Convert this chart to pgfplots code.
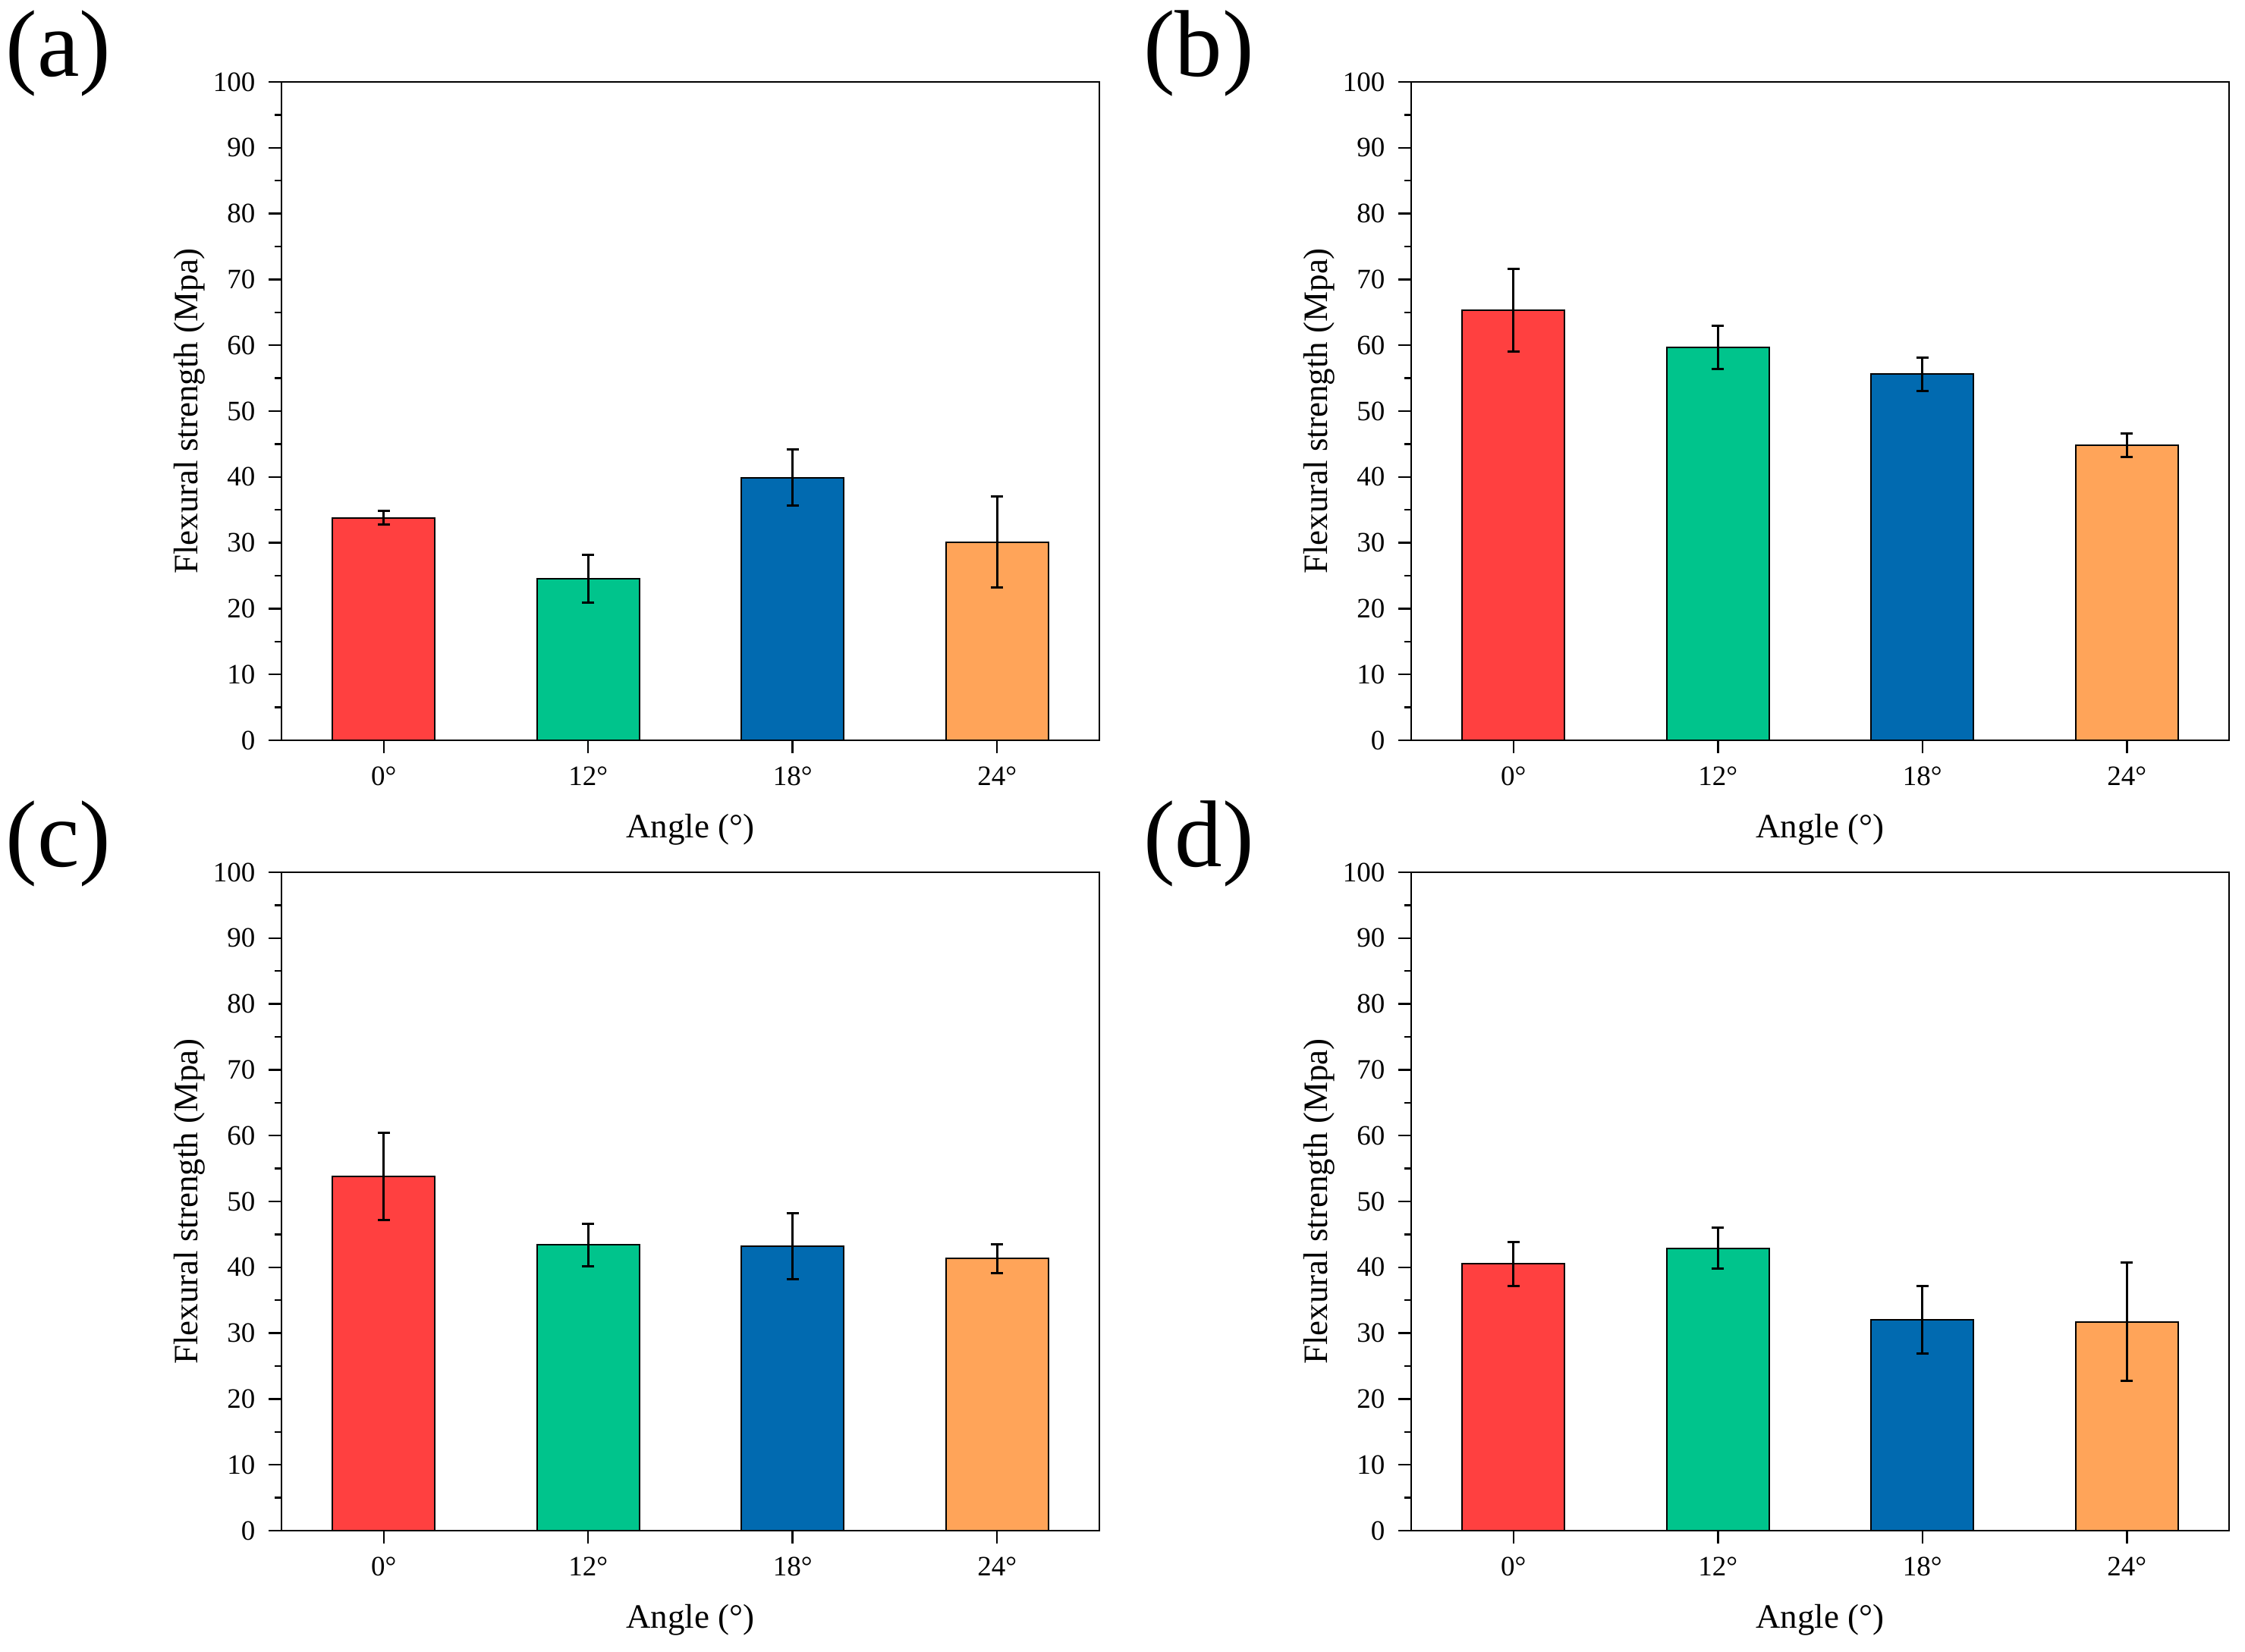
\documentclass[border=0pt]{standalone}
\usepackage{pgfplots}
\pgfplotsset{compat=1.18}
\usepackage{fontspec}
\setmainfont{Liberation Serif}
\definecolor{cR}{RGB}{255,64,64}
\definecolor{cG}{RGB}{0,196,140}
\definecolor{cB}{RGB}{1,106,176}
\definecolor{cO}{RGB}{255,164,89}
\pgfplotsset{
  panel/.style={
    scale only axis, width=215.6pt, height=173.6pt,
    anchor=south west,
    xmin=-0.5, xmax=3.5, ymin=0, ymax=100,
    xtick={0,1,2,3}, xticklabels={0°,12°,18°,24°},
    ytick={0,10,...,100}, minor y tick num=1,
    tick align=outside, xtick pos=bottom, ytick pos=left,
    major tick length=3.4pt, minor tick length=1.8pt,
    axis line style={line width=0.5pt},
    every tick/.style={line width=0.5pt, black},
    ticklabel style={font=\fontsize{7.4}{8}\selectfont},
    /pgf/number format/assume math mode=true,
    xlabel={Angle (°)}, ylabel={Flexural strength (Mpa)},
    label style={font=\fontsize{9}{10}\selectfont},
    xlabel style={at={(axis description cs:0.5,-0.136)}, anchor=center},
    ylabel style={at={(axis description cs:-0.1127,0.5)}, anchor=center},
    ybar, bar width=0.5, bar shift=0pt,
  },
  eb/.style={draw=black, line width=0.4pt,
    error bars/.cd, y dir=both, y explicit,
    error bar style={line width=0.6pt, black},
    error mark options={rotate=90, mark size=1.6pt, line width=0.6pt, black}},
}
\begin{document}
\begin{tikzpicture}
\path[use as bounding box] (0,0) rectangle (591.8pt,435.6pt);
% (a)
\begin{axis}[panel, at={(74.2pt,240.4pt)}]
\addplot[fill=cR, eb] coordinates {(0,33.8) +- (0,1.0)};
\addplot[fill=cG, eb] coordinates {(1,24.5) +- (0,3.65)};
\addplot[fill=cB, eb] coordinates {(2,39.9) +- (0,4.25)};
\addplot[fill=cO, eb] coordinates {(3,30.1) +- (0,6.9)};
\end{axis}
% (b)
\begin{axis}[panel, at={(372.0pt,240.4pt)}]
\addplot[fill=cR, eb] coordinates {(0,65.3) +- (0,6.25)};
\addplot[fill=cG, eb] coordinates {(1,59.7) +- (0,3.3)};
\addplot[fill=cB, eb] coordinates {(2,55.6) +- (0,2.5)};
\addplot[fill=cO, eb] coordinates {(3,44.8) +- (0,1.8)};
\end{axis}
% (c)
\begin{axis}[panel, at={(74.2pt,32pt)}]
\addplot[fill=cR, eb] coordinates {(0,53.8) +- (0,6.6)};
\addplot[fill=cG, eb] coordinates {(1,43.4) +- (0,3.2)};
\addplot[fill=cB, eb] coordinates {(2,43.2) +- (0,5.0)};
\addplot[fill=cO, eb] coordinates {(3,41.3) +- (0,2.2)};
\end{axis}
% (d)
\begin{axis}[panel, at={(372.0pt,32pt)}]
\addplot[fill=cR, eb] coordinates {(0,40.5) +- (0,3.3)};
\addplot[fill=cG, eb] coordinates {(1,42.9) +- (0,3.15)};
\addplot[fill=cB, eb] coordinates {(2,32.0) +- (0,5.1)};
\addplot[fill=cO, eb] coordinates {(3,31.7) +- (0,9.0)};
\end{axis}
\node[font=\fontsize{25}{27}\selectfont] at (15.4pt,421.6pt) {(a)};
\node[font=\fontsize{25}{27}\selectfont] at (316pt,421.6pt) {(b)};
\node[font=\fontsize{25}{27}\selectfont] at (15.4pt,213.2pt) {(c)};
\node[font=\fontsize{25}{27}\selectfont] at (316pt,213.2pt) {(d)};
\end{tikzpicture}
\end{document}
